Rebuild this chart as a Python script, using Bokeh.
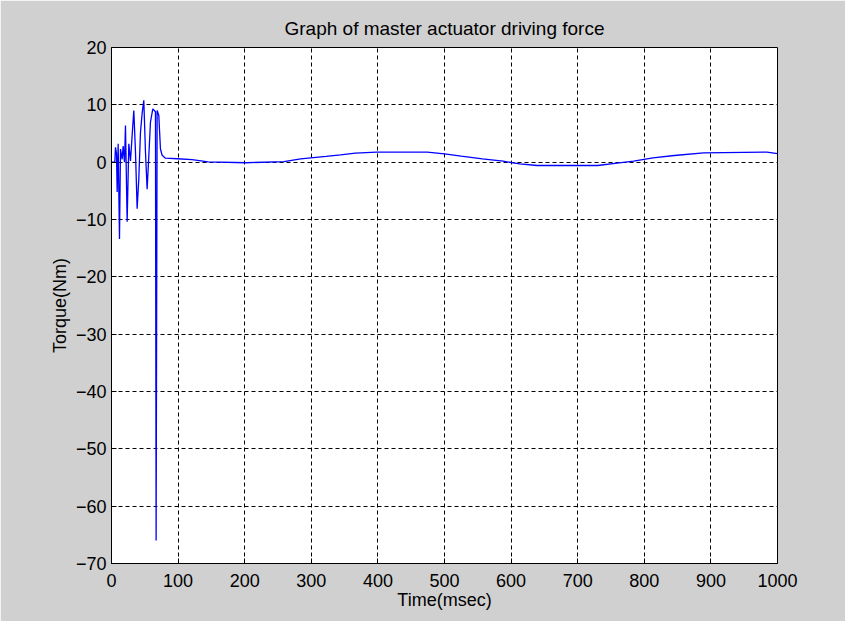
from bokeh.plotting import figure
from bokeh.models import Range1d, FixedTicker, Title
from bokeh.embed import file_html
from bokeh.resources import INLINE

# time (msec) and torque (Nm)
time_ms = [0, 5, 6, 7.5, 8.5, 10, 12, 13.5, 16, 17.5, 19.5, 21, 23.5, 26, 28.5,
           31, 33.5, 36, 38.5, 41, 43.5, 46, 48.5, 51, 53.5, 56, 58.5, 62, 66,
           67, 68.5, 71, 73.5, 76, 81, 99, 121, 145, 202, 259, 284, 322, 344,
           366, 398, 474, 500, 525, 557, 588, 613, 639, 730, 759, 784, 813,
           845, 889, 984, 1000]
torque_nm = [0, 0, 2.6, 1.5, -5.2, 3.2, -13.4, 2.3, 0.5, 2.8, 0, 6.4, -10.4,
             3.2, 0.2, 4.7, 9.0, 1.8, -8.1, -2.9, 5.2, 8.5, 10.8, 1.8, -4.7,
             1.0, 7.0, 9.3, 8.8, -66.0, 9.0, 8.2, 2.3, 1.2, 0.7, 0.6, 0.45,
             0.05, -0.1, 0.1, 0.58, 1.0, 1.28, 1.57, 1.75, 1.75, 1.45, 1.05,
             0.58, 0.17, -0.3, -0.58, -0.58, -0.17, 0.17, 0.76, 1.16, 1.63,
             1.75, 1.5]

x_ticks = [0, 100, 200, 300, 400, 500, 600, 700, 800, 900, 1000]
y_ticks = [20, 10, 0, -10, -20, -30, -40, -50, -60, -70]

BG = "#d0d0d0"
FONT = "Liberation Sans"

p = figure(width=845, height=621, output_backend="svg", toolbar_location=None,
           x_range=Range1d(0, 1000), y_range=Range1d(-70, 20),
           min_border_left=111, min_border_right=68, min_border_top=47,
           min_border_bottom=58)
p.frame_width = 666
p.frame_height = 516
p.background_fill_color = "white"
p.border_fill_color = BG
p.outline_line_color = "black"
p.outline_line_width = 1

p.title = Title(text="Graph of master actuator driving force", align="center",
                text_font=FONT, text_font_size="19px", text_font_style="normal",
                text_color="black", standoff=17)

p.line(time_ms, torque_nm, line_color="#0000ff", line_width=1.3)

for ax, ticks in ((p.xaxis, x_ticks), (p.yaxis, y_ticks)):
    ax.ticker = FixedTicker(ticks=ticks)
    ax.major_label_text_font = FONT
    ax.major_label_text_font_size = "18px"
    ax.major_label_text_color = "black"
    ax.axis_label_text_font = FONT
    ax.axis_label_text_font_size = "18px"
    ax.axis_label_text_font_style = "normal"
    ax.axis_label_text_color = "black"
    ax.major_tick_in = 5
    ax.major_tick_out = 0
    ax.minor_tick_line_color = None
    ax.axis_line_color = "black"
    ax.major_tick_line_color = "black"

p.xaxis.axis_label = "Time(msec)"
p.yaxis.axis_label = "Torque(Nm)"
p.xaxis.major_label_standoff = 10
p.yaxis.major_label_standoff = 5
p.xaxis.axis_label_standoff = 0
p.yaxis.axis_label_standoff = 3

p.xgrid.grid_line_color = "black"
p.ygrid.grid_line_color = "black"
p.xgrid.grid_line_dash = "4 3"
p.ygrid.grid_line_dash = "4 3"
p.xgrid.grid_line_width = 1
p.ygrid.grid_line_width = 1

html = file_html(p, INLINE)
html = html.replace("<body>", '<body style="background:%s">' % BG, 1)
open("out.html", "w").write(html)
